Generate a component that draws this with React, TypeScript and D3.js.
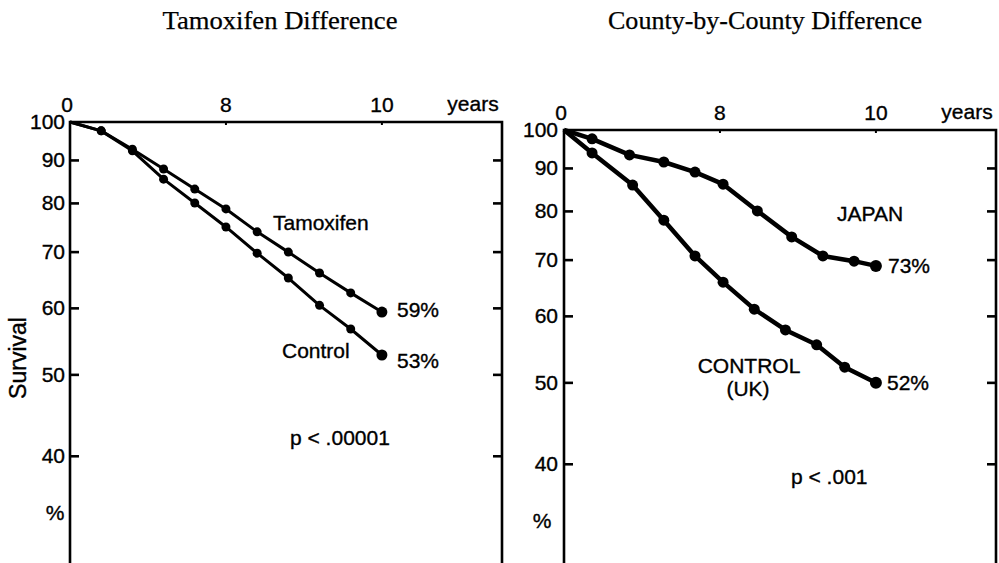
import React from "react"
import * as d3 from "d3"

// x positions of the top axis (years) and the labels printed on them
const yearTicks = [0, 5, 10]
const yearTickLabels = ["0", "8", "10"]
const survivalTicks = [100, 90, 80, 70, 60, 50, 40]
const borderTicks = [90, 80, 70, 60, 50, 40]

// left panel
const tamoxifenYears = [0, 1, 2, 3, 4, 5, 6, 7, 8, 9, 10]
const tamoxifenSurvival = [100, 97.6, 92.8, 87.9, 83.2, 78.8, 74.0, 70.0, 66.1, 62.6, 59.4]
const controlYears = [0, 1, 2, 3, 4, 5, 6, 7, 8, 9, 10]
const controlSurvival = [100, 97.6, 92.4, 85.5, 80.1, 75.0, 69.8, 65.2, 60.5, 56.7, 52.8]

// right panel
const japanYears = [0, 0.9, 2.1, 3.2, 4.2, 5.1, 6.2, 7.3, 8.3, 9.3, 10]
const japanSurvival = [100, 97.6, 93.4, 91.6, 89.1, 86.2, 80.1, 74.6, 70.8, 69.8, 68.9]
const ukYears = [0, 0.9, 2.2, 3.2, 4.2, 5.1, 6.1, 7.1, 8.1, 9.0, 10]
const ukSurvival = [100, 93.9, 86.0, 78.1, 70.8, 65.9, 61.2, 57.8, 55.5, 52.2, 50.0]

const sans = "'Liberation Sans', Arial, Helvetica, sans-serif"
const serif = "'Liberation Serif', 'Times New Roman', serif"

const W = 999,
  H = 563

type Series = { years: number[]; values: number[]; width: number; r: number; rEnd: number }

// heavier look of the scanned lettering
const ink = { fill: "#000", stroke: "#000", strokeWidth: 0.35 }

function Panel({ left, top, series, title, titleX, titleW, yLabX, children }: any) {
  const right = left + 432
  const x = d3.scaleLinear().domain([0, 13.85]).range([left, right])
  const y = d3.scaleLog().domain([30, 100]).range([top + 840 * Math.log10(100 / 30), top])
  const line = d3
    .line<[number, number]>()
    .x(d => x(d[0]))
    .y(d => y(d[1]))

  return (
    <g>
      <text x={titleX} y={29} textAnchor="middle" fontFamily={serif} fontSize={25} textLength={titleW}
        lengthAdjust="spacingAndGlyphs" {...ink} strokeWidth={0.25}>
        {title}
      </text>

      {/* frame */}
      <path d={`M${left},${H} V${top} H${right} V${H}`} fill="none" stroke="#000" strokeWidth={2.6} />

      {yearTicks.map((t, i) => (
        <g key={"x" + t}>
          <line x1={x(t)} x2={x(t)} y1={top} y2={top + 3} stroke="#000" strokeWidth={2} />
          <text x={x(t) - (i === 0 ? 3 : 0)} y={top - 10} textAnchor="middle" fontFamily={sans} fontSize={21}
            {...ink}>
            {yearTickLabels[i]}
          </text>
        </g>
      ))}
      <text x={right - 29} y={top - 11} textAnchor="middle" fontFamily={sans} fontSize={21} {...ink}>
        years
      </text>

      {survivalTicks.map(t => (
        <g key={"y" + t}>
          {t < 100 && <line x1={left} x2={left + 9} y1={y(t)} y2={y(t)} stroke="#000" strokeWidth={2.6} />}
          <text x={yLabX} y={y(t) + 7} textAnchor="end" fontFamily={sans} fontSize={21} {...ink}>
            {t}
          </text>
        </g>
      ))}
      {borderTicks.map(t => (
        <line key={"b" + t} x1={right - 9} x2={right} y1={y(t)} y2={y(t)} stroke="#000" strokeWidth={2.6} />
      ))}

      {series.map((s: Series, k: number) => {
        const pts = s.years.map((yr, i) => [yr, s.values[i]] as [number, number])
        return (
          <g key={"s" + k}>
            <path d={line(pts) || ""} fill="none" stroke="#000" strokeWidth={s.width} strokeLinejoin="round" />
            {pts.slice(1).map((p, i) => (
              <circle key={i} cx={x(p[0])} cy={y(p[1])} r={i === pts.length - 2 ? s.rEnd : s.r} fill="#000" />
            ))}
          </g>
        )
      })}
      {children}
    </g>
  )
}

export default function App() {
  const leftSeries: Series[] = [
    { years: tamoxifenYears, values: tamoxifenSurvival, width: 3, r: 4.5, rEnd: 5.5 },
    { years: controlYears, values: controlSurvival, width: 3, r: 4.5, rEnd: 5.5 },
  ]
  const rightSeries: Series[] = [
    { years: japanYears, values: japanSurvival, width: 4.5, r: 5.5, rEnd: 6 },
    { years: ukYears, values: ukSurvival, width: 4.5, r: 5.5, rEnd: 6 },
  ]
  const t = { fontFamily: sans, fontSize: 21, ...ink }

  return (
    <svg width={W} height={H} style={{ position: "absolute", left: 0, top: 0, background: "#fff" }}>
      <rect width={W} height={H} fill="#fff" />
      <text transform="translate(26,358) rotate(-90)" textAnchor="middle" fontFamily={sans} fontSize={23}
        {...ink}>
        Survival
      </text>

      <Panel left={70} top={122} series={leftSeries} title="Tamoxifen Difference" titleX={280} titleW={235}
        yLabX={65}>
        <text x={273} y={230} {...t}>Tamoxifen</text>
        <text x={282} y={358} {...t}>Control</text>
        <text x={397} y={317} {...t}>59%</text>
        <text x={397} y={368} {...t}>53%</text>
        <text x={290} y={445} {...t}>p &lt; .00001</text>
        <text x={55} y={520} textAnchor="middle" {...t}>%</text>
      </Panel>

      <Panel left={564} top={130} series={rightSeries} title="County-by-County Difference" titleX={765}
        titleW={314} yLabX={558}>
        <text x={837} y={221} {...t}>JAPAN</text>
        <text x={888} y={273} {...t}>73%</text>
        <text x={749} y={373} textAnchor="middle" {...t}>CONTROL</text>
        <text x={748} y={396} textAnchor="middle" {...t}>(UK)</text>
        <text x={887} y={390} {...t}>52%</text>
        <text x={791} y={484} {...t}>p &lt; .001</text>
        <text x={542} y={528} textAnchor="middle" {...t}>%</text>
      </Panel>
    </svg>
  )
}
